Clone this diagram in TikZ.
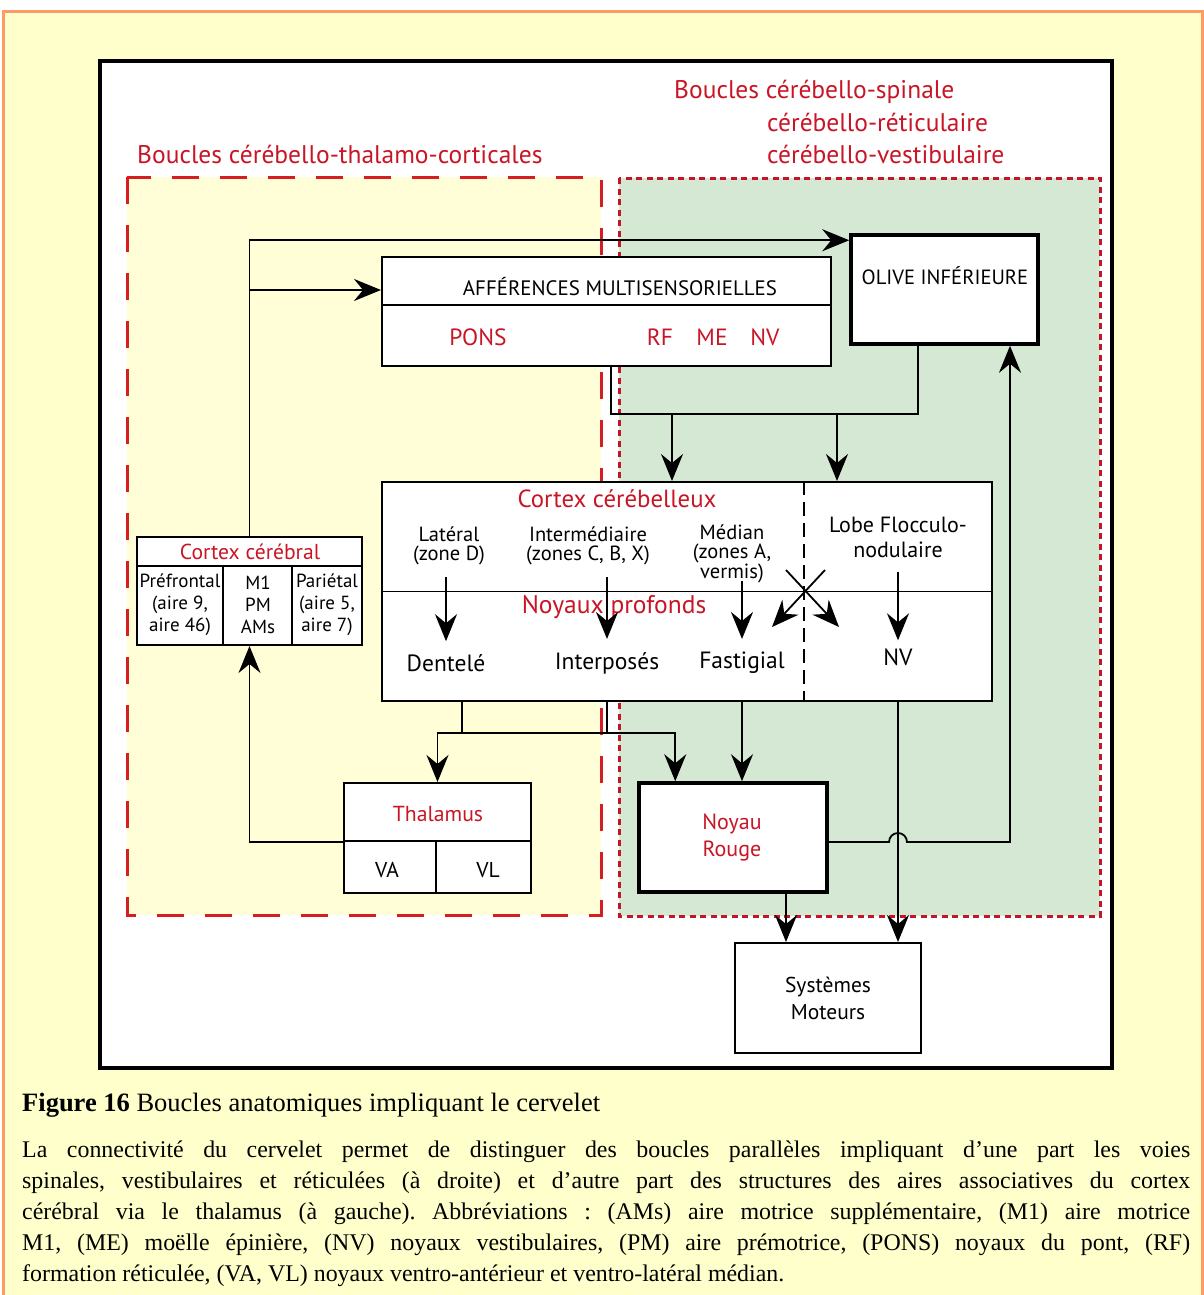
\documentclass[tikz,border=0pt]{standalone}
\usepackage{fontspec}
\setmainfont{Liberation Serif}
\newfontfamily\diag{PT Sans}
\usetikzlibrary{arrows.meta,calc}
\definecolor{redtxt}{RGB}{200,22,38}
\definecolor{redln}{RGB}{214,30,34}
\definecolor{redlnd}{RGB}{196,20,40}
\definecolor{bgyel}{RGB}{255,255,204}
\definecolor{lyel}{RGB}{255,254,214}
\definecolor{lgreen}{RGB}{213,232,212}
\definecolor{orangeb}{RGB}{255,153,102}
\frenchspacing
\begin{document}
\begin{tikzpicture}[x=1pt,y=-1pt,
  box/.style={draw,line width=2pt,fill=white,inner sep=0pt},
  thickbox/.style={box,line width=3.5pt},
  lbl/.style={font=\diag\fontsize{23.5}{25}\selectfont,align=center,inner sep=0pt},
  rlbl/.style={lbl,text=redtxt},
  ttl/.style={font=\diag\fontsize{25.5}{26}\selectfont,text=redtxt,inner sep=0pt,anchor=west},
  small/.style={font=\diag\fontsize{20.5}{18.5}\selectfont,align=center,inner sep=0pt},
  ccsmall/.style={font=\diag\fontsize{19}{22}\selectfont,align=center,inner sep=0pt},
  arr/.style={line width=1.8pt,-{Stealth[length=27pt,width=22pt,inset=9pt]}},
  ln/.style={line width=1.8pt},
  capt/.style={anchor=base west,inner sep=0pt,font=\fontsize{23.9}{24}\selectfont}]
\useasboundingbox (0,0) rectangle (1204,1295);
\fill[white] (0,0) rectangle (1204,1295);
\draw[fill=bgyel,draw=orangeb,line width=3pt] (3,11.5) rectangle (1202,1320);
\draw[fill=white,line width=3.5pt] (100,61) rectangle (1112,1068);
% regions
\draw[fill=lyel,draw=redln,line width=3pt,dash pattern=on 27pt off 21pt] (127,177) rectangle (601,915);
\draw[fill=lgreen,draw=redlnd,line width=3pt,dash pattern=on 6pt off 4.5pt] (619,178) rectangle (1100,916);
% titles
\node[ttl] (t1) at (674,92) {Boucles cérébello-spinale};
\node[ttl] (t2) at (767,122) {cérébello-réticulaire};
\node[ttl] (t3) at (767,154) {cérébello-vestibulaire};
\node[ttl] (t4) at (137,154) {Boucles cérébello-thalamo-corticales};
% afferences
\node[box,minimum width=449pt,minimum height=109pt] (aff) at (606.5,311.5) {};
\draw[ln] ($(aff.north west)+(0,49)$) -- ($(aff.north east)+(0,49)$);
\node[lbl,font=\diag\fontsize{20.9}{22}\selectfont] (afft) at (620,287) {AFFÉRENCES MULTISENSORIELLES};
\node[rlbl] (pons) at (478,337) {PONS};
\node[rlbl] (rf) at (660,337) {RF};
\node[rlbl] (me) at (712,337) {ME};
\node[rlbl] (nva) at (765,337) {NV};
% olive
\node[thickbox,minimum width=187pt,minimum height=109pt] (olive) at (944.5,289.5) {};
\node[lbl,font=\diag\fontsize{20.6}{22}\selectfont] (olivet) at (945,276) {OLIVE INFÉRIEURE};
% cortex cerebelleux
\node[box,minimum width=610pt,minimum height=219pt] (cb) at (687,591.5) {};
\draw[ln] (cb.west) -- (cb.east);
\draw[line width=1.6pt,dash pattern=on 14pt off 7pt] ($(cb.north west)+(423,0)$) -- ($(cb.south west)+(423,0)$);
\node[rlbl,font=\diag\fontsize{24.8}{26}\selectfont] (cbt) at (617,499) {Cortex cérébelleux};
\node[small] (lat) at (449,546) {Latéral\\(zone D)};
\node[small] (inter) at (588,546) {Intermédiaire\\(zones C, B, X)};
\node[small] (med) at (732,554) {Médian\\(zones A,\\vermis)};
\node[lbl,font=\diag\fontsize{22}{25}\selectfont] (lobe) at (898,537) {Lobe Flocculo-\\nodulaire};
\node[rlbl,font=\diag\fontsize{25.5}{26}\selectfont] (np) at (614,607) {Noyaux profonds};
\node[lbl] (dent) at (446,663) {Dentelé};
\node[lbl] (interp) at (607,663) {Interposés};
\node[lbl] (fast) at (742,663) {Fastigial};
\node[lbl] (nvb) at (898,657) {NV};
\draw[arr] ([yshift=-12pt]dent.north |- lat.south) -- ([yshift=13pt]dent.north);
\draw[arr] ([yshift=-12pt]interp.north |- inter.south) -- ([yshift=13pt]interp.north);
\draw[arr] ([yshift=2pt]fast.north |- med.south) -- ([yshift=13pt]fast.north);
\draw[arr] ([yshift=-14pt]nvb.north |- lobe.south) -- ([yshift=8pt]nvb.north);
\coordinate (xa) at (825,570);
\coordinate (xb) at (772,627);
\coordinate (xc) at (786,570);
\coordinate (xd) at (839,627);
\draw[arr] (xa) -- (xb);
\draw[arr] (xc) -- (xd);
% cortex cerebral
\node[box,minimum width=225pt,minimum height=108pt] (cc) at (249.5,591) {};
\draw[ln] ($(cc.north west)+(0,30)$) -- ($(cc.north east)+(0,30)$);
\draw[ln] ($(cc.north west)+(87,30)$) -- ($(cc.south west)+(87,0)$);
\draw[ln] ($(cc.north west)+(156,30)$) -- ($(cc.south west)+(156,0)$);
\node[rlbl,font=\diag\fontsize{21.6}{22}\selectfont] (cct) at (250,552) {Cortex cérébral};
\node[ccsmall] (pre) at (180,605) {Préfrontal\\(aire 9,\\aire 46)};
\node[ccsmall] (m1) at (258,605) {M1\\PM\\AMs};
\node[ccsmall] (par) at (327,605) {Pariétal\\(aire 5,\\aire 7)};
% thalamus
\node[box,minimum width=187pt,minimum height=110pt] (thal) at (437.5,838) {};
\draw[ln] ($(thal.north west)+(0,59)$) -- ($(thal.north east)+(0,59)$);
\draw[ln] ($(thal.north west)+(93,59)$) -- ($(thal.south west)+(93,0)$);
\node[rlbl,font=\diag\fontsize{21.7}{25}\selectfont] (thalt) at (438,814) {Thalamus};
\node[lbl,font=\diag\fontsize{21.5}{25}\selectfont] (va) at (387,870) {VA};
\node[lbl,font=\diag\fontsize{21.5}{25}\selectfont] (vl) at (488,870) {VL};
% noyau rouge
\node[thickbox,minimum width=188pt,minimum height=109pt] (nr) at (733,837.5) {};
\node[rlbl,font=\diag\fontsize{22}{27}\selectfont] (nrt) at (732,838) {Noyau\\Rouge};
% systemes moteurs
\node[box,minimum width=186pt,minimum height=110pt] (sm) at (828,998) {};
\node[lbl,font=\diag\fontsize{21.5}{27}\selectfont] (smt) at (828,998) {Systèmes\\Moteurs};
% connectors
\draw[arr] (cc.north) |- ([yshift=-7pt]olive.north west);
\path (cc.north |- aff.west) ++(0,-21.5) coordinate (b1);
\draw[arr] (b1) -- (b1 -| aff.west);
\path (aff.south) ++(4.5,0) coordinate (a1);
\path (a1) ++(0,47) coordinate (j1);
\draw[ln] (a1) -- (j1) -| ([xshift=-26.5pt]olive.south);
\path (j1) ++(61,0) coordinate (j2);
\path (j1) ++(226,0) coordinate (j3);
\draw[arr] (j2) -- (j2 |- cb.north);
\draw[arr] (j3) -- (j3 |- cb.north);
\path (cb.south west) ++(81,0) coordinate (d1);
\path (d1) ++(0,31) coordinate (d1b);
\path (cb.south west) ++(226,0) coordinate (d2);
\draw[ln] (d1) -- (d1b);
\draw[ln] (d2) -- (d2 |- d1b);
\path (nr.north west) ++(38,0) coordinate (nrin);
\draw[arr] (d1b) -| (thal.north);
\draw[arr] (d1b) -| (nrin);
\draw[arr] (cb.south -| fast) -- (nr.north -| fast);
\draw[arr] (cb.south -| nvb) -- (sm.north -| nvb);
\path (nr.east) ++(0,4.5) coordinate (ne);
\path (olive.south) ++(65.5,0) coordinate (ols);
\draw[arr] (ne) -- ($(ne -| nvb)+(-9,0)$) arc[start angle=180,end angle=360,radius=9] -| (ols);
\path (nr.south) ++(53,0) coordinate (ns);
\draw[arr] (ns) -- (ns |- sm.north);
\path (thal.west) ++(0,4) coordinate (tw);
\draw[arr] (tw) -| (cc.south);
% caption
\node[capt,font=\fontsize{26.5}{27}\selectfont] (cap0) at (22,1111) {\textbf{Figure 16} Boucles anatomiques impliquant le cervelet};
\node[capt] (cap1) at (22,1157) {\makebox[1168pt][s]{La connectivité du cervelet permet de distinguer des boucles parallèles impliquant d’une part les voies}};
\node[capt] (cap2) at (22,1188) {\makebox[1168pt][s]{spinales, vestibulaires et réticulées (à droite) et d’autre part des structures des aires associatives du cortex}};
\node[capt] (cap3) at (22,1219) {\makebox[1168pt][s]{cérébral via le thalamus (à gauche). Abbréviations : (AMs) aire motrice supplémentaire, (M1) aire motrice}};
\node[capt] (cap4) at (22,1250) {\makebox[1168pt][s]{M1, (ME) moëlle épinière, (NV) noyaux vestibulaires, (PM) aire prémotrice, (PONS) noyaux du pont, (RF)}};
\node[capt] (cap5) at (22,1281) {formation réticulée, (VA, VL) noyaux ventro-antérieur et ventro-latéral médian.};
\end{tikzpicture}
\end{document}
